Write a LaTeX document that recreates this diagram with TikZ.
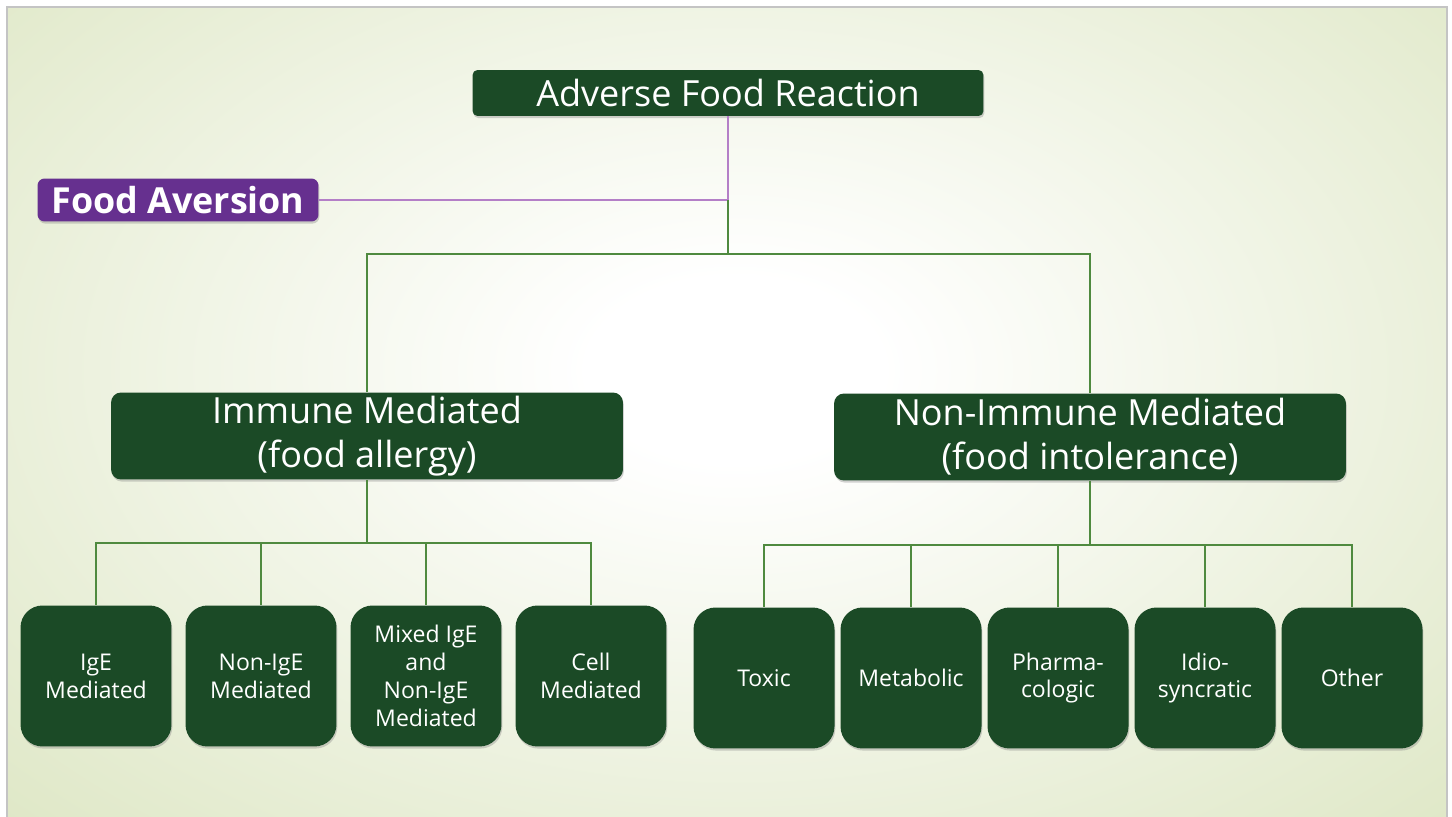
\documentclass[tikz,border=0pt]{standalone}
\usepackage{fontspec}
\setmainfont{Open Sans}
\usetikzlibrary{shadows}
\usetikzlibrary{positioning}
\usetikzlibrary{calc}
\definecolor{boxgreen}{HTML}{1B4A26}
\definecolor{linkgreen}{HTML}{4F8A3F}
\definecolor{aversionpurple}{HTML}{66308F}
\definecolor{linkpurple}{HTML}{B47FC7}
\definecolor{bgedge}{HTML}{DEE7C5}
\definecolor{framegray}{HTML}{C4C4C4}
\pgfdeclareradialshading{bgglow}{\pgfpoint{0bp}{0bp}}{color(0bp)=(white); color(5bp)=(white); color(36bp)=(bgedge); color(100bp)=(bgedge)}
\tikzstyle{boxshadow}=[drop shadow={shadow xshift=0.5pt,shadow yshift=-1.2pt,opacity=0.35}]
\tikzstyle{headbox}=[rectangle,rounded corners=0.1cm,fill=boxgreen,text=white,minimum width=10.22cm,minimum height=0.92cm,inner sep=0pt,font=\fontsize{20.5}{24}\selectfont,boxshadow]
\tikzstyle{aversionbox}=[rectangle,rounded corners=0.14cm,fill=aversionpurple,text=white,minimum width=5.62cm,minimum height=0.86cm,inner sep=0pt,font=\fontsize{20.4}{24}\selectfont\bfseries,boxshadow]
\tikzstyle{groupbox}=[rectangle,rounded corners=0.2cm,fill=boxgreen,text=white,minimum width=10.24cm,minimum height=1.74cm,inner sep=0pt,align=center,font=\fontsize{20.5}{25}\selectfont,boxshadow]
\tikzstyle{leafbox}=[rectangle,rounded corners=0.44cm,fill=boxgreen,text=white,minimum width=2.82cm,minimum height=2.82cm,inner sep=0pt,align=center,font=\fontsize{13.1}{15.9}\selectfont,boxshadow]
\tikzstyle{branch} = [draw,linkgreen,line width=1.1pt]
\tikzstyle{asidelink} = [draw,linkpurple,line width=1.1pt]

\begin{document}
\begin{tikzpicture}[x=0.02cm,y=-0.02cm]
    \useasboundingbox (0,0) rectangle (1452,817);
    \clip (0,0) rectangle (1452,817);
    % backdrop
    \begin{scope}
        \clip (7,7) rectangle (1447,830);
        \shade[shading=bgglow] (7,-90) rectangle (1463,830);
    \end{scope}
    \draw[framegray,line width=1.2pt] (7,7) rectangle (1447,830);

    \node[headbox] (root) at (728,93) {Adverse Food Reaction};
    \node[aversionbox] (aversion) at (178,200) {Food Aversion};
    \node[groupbox] (immune) at (367,436) {Immune Mediated\\(food allergy)};
    \node[groupbox] (nonimmune) at (1090,437) {Non-Immune Mediated\\(food intolerance)};

    \foreach \pos/\name/\label in {{(96,676)/ige/{IgE\\Mediated}}, {(261,676)/nonige/{Non-IgE\\Mediated}}, {(426,676)/mixed/{Mixed IgE\\and\\Non-IgE\\Mediated}}, {(591,676)/cell/{Cell\\Mediated}}}
        \node[leafbox,minimum width=3.02cm] (\name) at \pos {\label};

    \foreach \pos/\name/\label in {{(764,678)/toxic/Toxic}, {(911,678)/metabolic/Metabolic}, {(1058,678)/pharma/{Pharma-\\cologic}}, {(1205,678)/idio/{Idio-\\syncratic}}, {(1352,678)/other/Other}}
        \node[leafbox] (\name) at \pos {\label};

    \coordinate (avjoin) at (root.south |- aversion);
    \coordinate (topfork) at (728,254);
    \coordinate (leftfork) at (367,543);
    \coordinate (rightfork) at (1090,545);

    \path[asidelink] (root.south) -- (avjoin) -- (aversion.east);
    \path[branch] (avjoin) -- (topfork);
    \foreach \dest in {immune, nonimmune}
        \path[branch] (topfork) -| (\dest.north);
    \path[branch] (immune.south) -- (leftfork);
    \path[branch] (nonimmune.south) -- (rightfork);
    \foreach \dest in {ige, nonige, mixed, cell}
        \path[branch] (leftfork) -| (\dest.north);
    \foreach \dest in {toxic, metabolic, pharma, idio, other}
        \path[branch] (rightfork) -| (\dest.north);
\end{tikzpicture}
\end{document}
